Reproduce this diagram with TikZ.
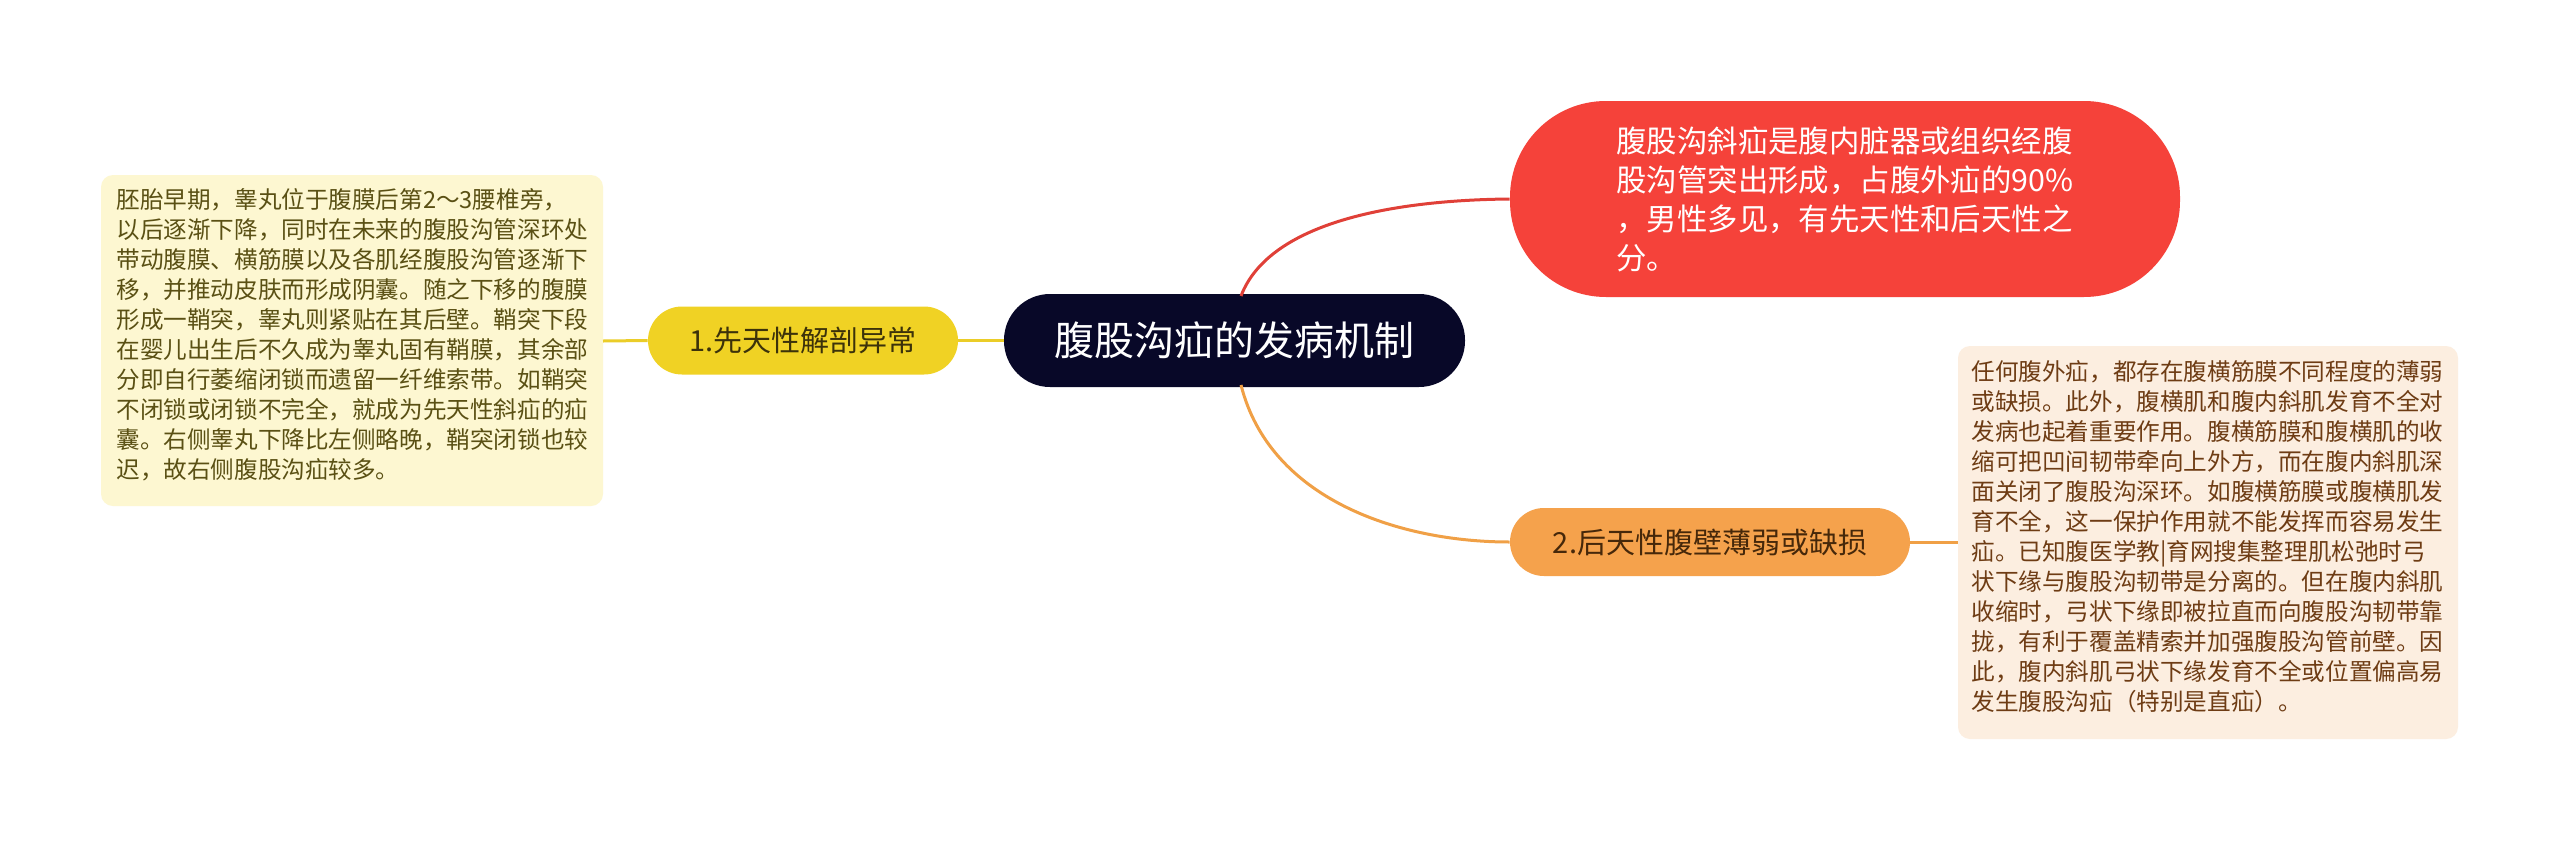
\documentclass[tikz,border=0pt]{standalone}
\usepackage{fontspec}
\setmainfont{Noto Sans CJK SC}
\definecolor{redline}{RGB}{224,64,56}
\definecolor{orgline}{RGB}{240,160,70}
\definecolor{yelline}{RGB}{235,205,40}
\begin{document}
\begin{tikzpicture}[x=0.5pt,y=-0.5pt,
 txt/.style={inner sep=0pt,align=left,font=\fontsize{11.8pt}{15pt}\selectfont},
 lbl/.style={rounded corners=17pt,minimum height=34pt},
 conn/.style={line width=1.5pt}]
\useasboundingbox (0,0) rectangle (2560,841);
\fill[white] (0,0) rectangle (2560,841);
% boxes
\fill[rounded corners=6pt,fill={rgb,255:red,253;green,247;blue,209}] (101,175) rectangle (603,506);
\fill[rounded corners=6pt,fill={rgb,255:red,252;green,238;blue,224}] (1958,346) rectangle (2458,739);
\node[txt,text={rgb,255:red,90;green,80;blue,20},anchor=north west] (lt) at (116,188) {胚胎早期，睾丸位于腹膜后第2～3腰椎旁，\\以后逐渐下降，同时在未来的腹股沟管深环处\\带动腹膜、横筋膜以及各肌经腹股沟管逐渐下\\移，并推动皮肤而形成阴囊。随之下移的腹膜\\形成一鞘突，睾丸则紧贴在其后壁。鞘突下段\\在婴儿出生后不久成为睾丸固有鞘膜，其余部\\分即自行萎缩闭锁而遗留一纤维索带。如鞘突\\不闭锁或闭锁不完全，就成为先天性斜疝的疝\\囊。右侧睾丸下降比左侧略晚，鞘突闭锁也较\\迟，故右侧腹股沟疝较多。};
\node[txt,text={rgb,255:red,110;green,60;blue,20},anchor=north west] (rt) at (1971,360) {任何腹外疝，都存在腹横筋膜不同程度的薄弱\\或缺损。此外，腹横肌和腹内斜肌发育不全对\\发病也起着重要作用。腹横筋膜和腹横肌的收\\缩可把凹间韧带牵向上外方，而在腹内斜肌深\\面关闭了腹股沟深环。如腹横筋膜或腹横肌发\\育不全，这一保护作用就不能发挥而容易发生\\疝。已知腹医学教|育网搜集整理肌松弛时弓\\状下缘与腹股沟韧带是分离的。但在腹内斜肌\\收缩时，弓状下缘即被拉直而向腹股沟韧带靠\\拢，有利于覆盖精索并加强腹股沟管前壁。因\\此，腹内斜肌弓状下缘发育不全或位置偏高易\\发生腹股沟疝（特别是直疝）。};
\coordinate (lbr) at (603,341);
\coordinate (rbl) at (1958,542);
% nodes
\node[rounded corners=23pt,fill={rgb,255:red,8;green,8;blue,40},text=white,minimum width=230.5pt,minimum height=46.5pt,font=\fontsize{20pt}{24pt}\selectfont] (c) at (1234.5,340.5) {腹股沟疝的发病机制};
\node[rounded corners=48pt,fill={rgb,255:red,245;green,66;blue,58},text=white,minimum width=335pt,minimum height=98pt,align=left,font=\fontsize{15.2pt}{19.5pt}\selectfont] (r) at (1845,199) {腹股沟斜疝是腹内脏器或组织经腹\\股沟管突出形成，占腹外疝的90\%\\，男性多见，有先天性和后天性之\\分。};
\node[lbl,fill={rgb,255:red,240;green,210;blue,36},minimum width=155pt,font=\fontsize{14.5pt}{18pt}\selectfont,text={rgb,255:red,60;green,50;blue,10}] (y) at (803,340.5) {1.先天性解剖异常};
\node[lbl,fill={rgb,255:red,245;green,162;blue,76},minimum width=200pt,font=\fontsize{14.5pt}{18pt}\selectfont,text={rgb,255:red,70;green,40;blue,10}] (o) at (1710,542) {2.后天性腹壁薄弱或缺损};
% connectors
\draw[conn,redline] (1241,296) .. controls (1270,220) and (1400,200) .. (r.west);
\draw[conn,orgline] (1241,385) .. controls (1270,500) and (1400,542) .. (o.west);
\draw[conn,yelline] (c.west) -- (y.east);
\draw[conn,yelline] (y.west) -- (lbr);
\draw[conn,orgline] (o.east) -- (rbl);
\end{tikzpicture}
\end{document}
